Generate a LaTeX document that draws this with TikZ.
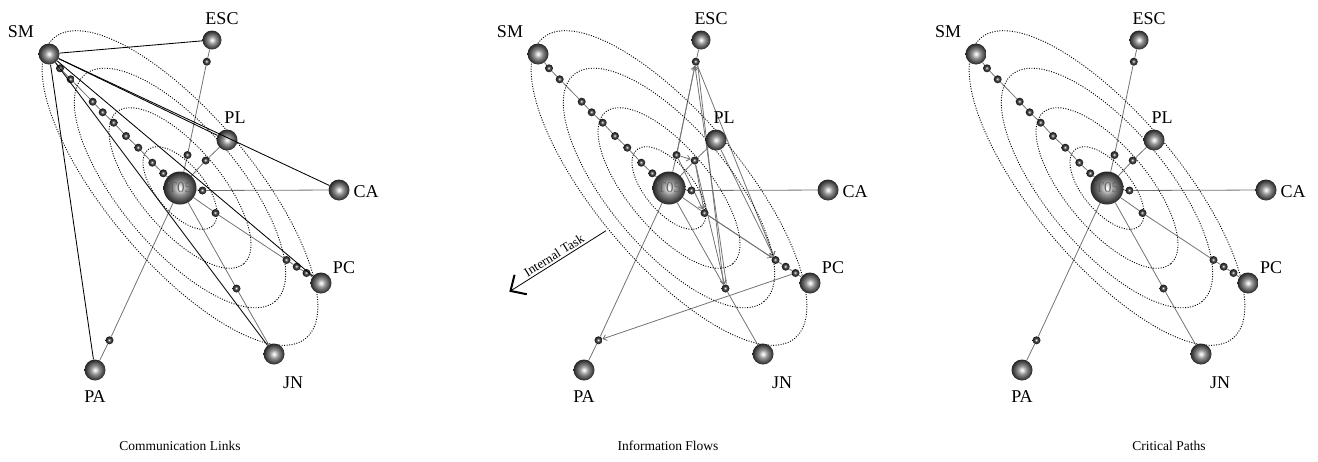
\documentclass[tikz,border=0pt]{standalone}
\usepackage{fontspec}
\setmainfont{Liberation Serif}
\usetikzlibrary{arrows.meta}
\pgfdeclarelayer{bg}
\pgfsetlayers{bg,main}
% grey sphere: light centre, dark rim (25bp = rim of the node)
\pgfdeclareradialshading{sphere}{\pgfpoint{0bp}{0bp}}{%
  color(0bp)=(white); color(3bp)=(black!10); color(10bp)=(black!42);
  color(18bp)=(black!66); color(25bp)=(black!86); color(50bp)=(black!88)}
% small dark bead for intermediate tasks
\pgfdeclareradialshading{bead}{\pgfpoint{-3bp}{3bp}}{%
  color(0bp)=(white); color(4bp)=(black!35); color(11bp)=(black!72);
  color(25bp)=(black!92); color(50bp)=(black!94)}
\tikzset{
  big/.style={circle, shade, shading=sphere, minimum size=21pt, inner sep=0pt},
  hub/.style={circle, shade, shading=sphere, minimum size=33pt, inner sep=0pt,
    text=black!62, font=\fontsize{15}{15}\selectfont},
  tiny/.style={circle, shade, shading=bead, minimum size=8pt, inner sep=0pt},
  lbl/.style={font=\fontsize{18}{18}\selectfont, inner sep=0pt},
  caption/.style={font=\fontsize{13.5}{14}\selectfont, inner sep=0pt},
  spoke/.style={draw=black!55, line width=0.8pt},
  link/.style={draw=black, line width=0.85pt},
  flow/.style={draw=black!55, line width=0.8pt, -{Straight Barb[length=3.5pt,width=6pt]}},
  orbit/.style={draw=black, line width=0.9pt, dash pattern=on 1pt off 1.5pt},
}
% the common network: hub, roles, intermediate tasks, spokes and orbits
\newcommand\basenet{%
  \draw[orbit, rotate around={-50:(180,188)}] (180,188) ellipse [x radius=196, y radius=73];
  \draw[orbit, rotate around={-50:(180,188)}] (180,188) ellipse [x radius=148, y radius=60];
  \draw[orbit, rotate around={-50:(180,188)}] (180,188) ellipse [x radius=99, y radius=41];
  \draw[orbit, rotate around={-50:(180,188)}] (180,188) ellipse [x radius=50, y radius=24];
  \fill[black!45] (106,184) circle (0.6);
  \node[hub] (T) at (180,188) {T05};
  \node[big] (SM) at (49,54) {};
  \node[big, minimum size=19pt] (ESC) at (212,40) {};
  \node[big] (PL) at (227,140) {};
  \node[big] (CA) at (339,190) {};
  \node[big] (PC) at (321,283) {};
  \node[big] (JN) at (274,354) {};
  \node[big] (PA) at (95,370) {};
  \node[lbl] (lSM) at (21,32) {SM};
  \node[lbl] (lESC) at (222,19) {ESC};
  \node[lbl] (lPL) at (235,118) {PL};
  \node[lbl] (lCA) at (366,192) {CA};
  \node[lbl] (lPC) at (344,268) {PC};
  \node[lbl] (lJN) at (293,383) {JN};
  \node[lbl] (lPA) at (95,397) {PA};
  \node[tiny] (m1) at (60,68.3) {};
  \node[tiny] (m2) at (70.7,79.3) {};
  \node[tiny] (m3) at (92.7,101.7) {};
  \node[tiny] (m4) at (102.7,112.3) {};
  \node[tiny] (m5) at (113.7,122.7) {};
  \node[tiny] (m6) at (126,136) {};
  \node[tiny] (m7) at (138.3,147.7) {};
  \node[tiny] (m8) at (152.3,162.7) {};
  \node[tiny] (m9) at (163.3,173.3) {};
  \node[tiny] (e1) at (206.8,61.7) {};
  \node[tiny] (e2) at (187.5,155) {};
  \node[tiny] (p1) at (205.7,160.5) {};
  \node[tiny] (c1) at (202.5,190.5) {};
  \node[tiny] (q0) at (215.5,213) {};
  \node[tiny] (q1) at (286.5,260) {};
  \node[tiny] (q2) at (296.7,266.7) {};
  \node[tiny] (q3) at (306.5,273) {};
  \node[tiny] (j1) at (236.5,288.5) {};
  \node[tiny] (a1) at (109.5,340.3) {};
  \begin{pgfonlayer}{bg}
    \draw[spoke] (SM) -- (m1) -- (m2) -- (m3) -- (m4) -- (m5) -- (m6) -- (m7) -- (m8) -- (m9) -- (T);
    \draw[spoke] (ESC) -- (e1) -- (e2) -- (T);
    \draw[spoke] (T) -- (p1) -- (PL);
    \draw[spoke] (T) -- (c1) -- (CA);
    \draw[spoke] (T) -- (q0) -- (q1) -- (q2) -- (q3) -- (PC);
    \draw[spoke] (T) -- (j1) -- (JN);
    \draw[spoke] (T) -- (a1) -- (PA);
  \end{pgfonlayer}
}
\begin{document}
\begin{tikzpicture}[x=1pt, y=-1pt]
\useasboundingbox (0,0) rectangle (1318,461);
% communication links
\begin{scope}
  \basenet
  \draw[link] (SM) -- (ESC);
  \draw[link] (SM) -- (PL);
  \draw[link] (SM) -- (CA);
  \draw[link] (SM) -- (PC);
  \draw[link] (SM) -- (JN);
  \draw[link] (SM) -- (PA);
  \node[caption] (cap1) at (180,446) {Communication Links};
\end{scope}
% information flows
\begin{scope}[shift={(489,0)}]
  \basenet
  \begin{pgfonlayer}{bg}
    \draw[flow] (e2) -- (e1);
    \draw[flow] (j1.78) -- (e1.-102);
    \draw[flow] (e1.-62) -- (j1.118);
    \draw[flow] (p1) -- (j1);
    \draw[flow] (e1) -- (q1);
    \draw[flow] (PL) -- (q1);
    \draw[flow] (q0) -- (q1);
    \draw[flow] (e2) -- (p1);
    \draw[flow] (e2) -- (q0);
    \draw[flow] (p1) -- (q0);
    \draw[flow] (q3) -- (a1);
  \end{pgfonlayer}
  \coordinate (itA) at (117,230.7);
  \coordinate (itB) at (20.3,291.7);
  \draw[line width=0.8pt, -{Straight Barb[length=12pt,width=23pt,line width=2pt]}]
    (itA) -- node[sloped, above, pos=0.5, inner sep=2pt, font=\fontsize{13}{13}\selectfont] (itL) {Internal Task} (itB);
  \node[caption] (cap2) at (179,446) {Information Flows};
\end{scope}
% critical paths
\begin{scope}[shift={(927,0)}]
  \basenet
  \node[caption] (cap3) at (242,446) {Critical Paths};
\end{scope}
\end{tikzpicture}
\end{document}
